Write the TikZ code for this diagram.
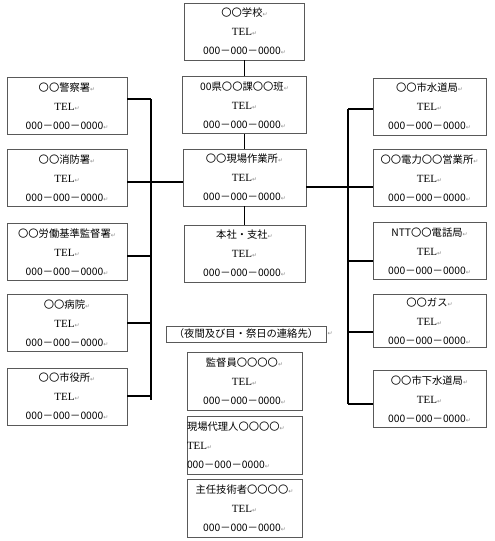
\documentclass[tikz,border=0pt]{standalone}
\usepackage{fontspec}
\usepackage{xcolor}
\setmainfont{Noto Sans CJK JP}
\newfontfamily\telfont{Liberation Serif}
\newfontfamily\symfont{DejaVu Sans}
\newcommand{\retmark}{{\symfont\fontsize{6}{6}\selectfont\color{black!45}↵}}
\newcommand{\telline}{{\telfont\fontsize{11}{11}\selectfont TEL}\retmark}
\newcommand{\numline}{000－000－0000\retmark}

\begin{document}
\begin{tikzpicture}[x=1pt, y=-1pt,
    box/.style={draw=black!65, line width=0.7pt, align=center, inner sep=0pt,
        minimum height=57pt, font=\fontsize{10.3}{19}\selectfont},
    link/.style={line width=1.3pt}]
    \useasboundingbox (0,0) rectangle (495,541);

    % centre column
    \node[box, minimum width=120pt] (school) at (244.5,31.5) {〇〇学校\retmark\\\telline\\\numline};
    \node[box, minimum width=124pt] (ken) at (244.5,105) {00県〇〇課〇〇班\retmark\\\telline\\\numline};
    \node[box, minimum width=123pt] (site) at (244.5,177.5) {〇〇現場作業所\retmark\\\telline\\\numline};
    \node[box, minimum width=121pt] (honsha) at (244.5,253.5) {本社・支社\retmark\\\telline\\\numline};

    % left column
    \node[box, minimum width=120pt] (police) at (67,106) {〇〇警察署\retmark\\\telline\\\numline};
    \node[box, minimum width=120pt] (fire) at (67,178) {〇〇消防署\retmark\\\telline\\\numline};
    \node[box, minimum width=120pt] (labour) at (67,252) {〇〇労働基準監督署\retmark\\\telline\\\numline};
    \node[box, minimum width=120pt] (hospital) at (67,323) {〇〇病院\retmark\\\telline\\\numline};
    \node[box, minimum width=120pt] (cityhall) at (67,396.5) {〇〇市役所\retmark\\\telline\\\numline};

    % right column
    \node[box, minimum width=113pt] (water) at (429.5,106.5) {〇〇市水道局\retmark\\\telline\\\numline};
    \node[box, minimum width=113pt] (power) at (429.5,178) {〇〇電力〇〇営業所\retmark\\\telline\\\numline};
    \node[box, minimum width=113pt] (ntt) at (429.5,251) {NTT〇〇電話局\retmark\\\telline\\\numline};
    \node[box, minimum width=113pt, minimum height=53pt] (gas) at (429.5,321) {〇〇ガス\retmark\\\telline\\\numline};
    \node[box, minimum width=113pt] (sewer) at (429.5,399) {〇〇市下水道局\retmark\\\telline\\\numline};

    % night contacts
    \node[draw=black!65, line width=0.7pt, minimum width=160pt, minimum height=16pt, inner sep=0pt,
        font=\fontsize{10.3}{11}\selectfont] (night) at (246,334) {（夜間及び目・祭日の連絡先）};
    \node[anchor=west, inner sep=1pt] (nightmark) at (night.east) {\retmark};
    \node[box, minimum width=115pt, minimum height=58pt] (kantoku) at (244.5,381) {監督員〇〇〇〇\retmark\\\telline\\\numline};
    \node[box, minimum width=115pt, minimum height=58pt, align=left, text width=115pt] (dairi) at (244.5,445) {現場代理人〇〇〇〇\retmark\\\telline\\\numline};
    \node[box, minimum width=115pt, minimum height=58pt] (gijutsu) at (244.5,508) {主任技術者〇〇〇〇\retmark\\\telline\\\numline};

    % bus lines
    \coordinate (ltop) at (151,99);
    \coordinate (lbot) at (151,400);
    \coordinate (rtop) at (348,109);
    \coordinate (rbot) at (348,404);

    \draw[link] (school) -- (ken);
    \draw[link] (ken) -- (site);
    \draw[link] (site) -- (honsha);
    \draw[link] (ltop) -- (lbot);
    \draw[link] (rtop) -- (rbot);
    \draw[link] ([yshift=-4.5pt]site.west) -- ++(-32,0);
    \draw[link] ([yshift=-9.5pt]site.east) -- ++(42,0);

    \draw[link] ([yshift=7pt]police.east) -- ++(24,0);
    \draw[link] ([yshift=-4pt]fire.east) -- ++(24,0);
    \draw[link] ([yshift=-4pt]labour.east) -- ++(24,0);
    \draw[link] (hospital.east) -- ++(24,0);
    \draw[link] ([yshift=0.5pt]cityhall.east) -- ++(24,0);

    \draw[link] ([yshift=-2.5pt]water.west) -- ++(-25,0);
    \draw[link] ([yshift=-9pt]power.west) -- ++(-25,0);
    \draw[link] ([yshift=-10pt]ntt.west) -- ++(-25,0);
    \draw[link] ([yshift=-11pt]gas.west) -- ++(-25,0);
    \draw[link] ([yshift=-5pt]sewer.west) -- ++(-25,0);
\end{tikzpicture}
\end{document}
